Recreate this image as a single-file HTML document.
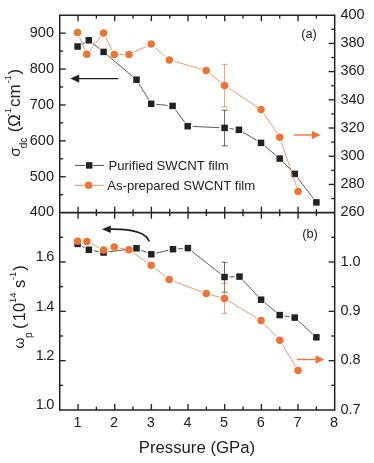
<!DOCTYPE html>
<html><head><meta charset="utf-8"><title>Pressure dependence</title>
<style>html,body{margin:0;padding:0;background:#fff;}svg{display:block;will-change:transform;}</style></head>
<body>
<svg width="374" height="463" viewBox="0 0 374 463" font-family="Liberation Sans, sans-serif" fill="#222222">
<rect width="374" height="463" fill="#ffffff"/>
<line x1="81.97" y1="44.08" x2="84.43" y2="42.72" stroke="#222222" stroke-width="0.75" />
<line x1="92.74" y1="43.38" x2="99.66" y2="48.82" stroke="#222222" stroke-width="0.75" />
<line x1="107.42" y1="55.13" x2="132.68" y2="76.47" stroke="#222222" stroke-width="0.75" />
<line x1="139.10" y1="83.97" x2="148.60" y2="99.53" stroke="#222222" stroke-width="0.75" />
<line x1="156.18" y1="104.29" x2="167.62" y2="105.41" stroke="#222222" stroke-width="0.75" />
<line x1="175.58" y1="109.91" x2="184.72" y2="122.19" stroke="#222222" stroke-width="0.75" />
<line x1="192.69" y1="126.43" x2="219.61" y2="127.67" stroke="#222222" stroke-width="0.75" />
<line x1="229.56" y1="128.56" x2="233.94" y2="129.14" stroke="#222222" stroke-width="0.75" />
<line x1="243.20" y1="132.35" x2="256.70" y2="140.35" stroke="#222222" stroke-width="0.75" />
<line x1="264.83" y1="146.11" x2="275.87" y2="155.39" stroke="#222222" stroke-width="0.75" />
<line x1="283.20" y1="162.17" x2="291.20" y2="170.33" stroke="#222222" stroke-width="0.75" />
<line x1="297.73" y1="177.88" x2="313.37" y2="198.42" stroke="#222222" stroke-width="0.75" />
<line x1="224.60" y1="110.20" x2="224.60" y2="145.80" stroke="#222222" stroke-width="0.7" />
<line x1="221.60" y1="110.20" x2="227.60" y2="110.20" stroke="#222222" stroke-width="0.7" />
<line x1="221.60" y1="145.80" x2="227.60" y2="145.80" stroke="#222222" stroke-width="0.7" />
<rect x="74.35" y="43.25" width="6.5" height="6.5" fill="#222222"/>
<rect x="85.55" y="37.05" width="6.5" height="6.5" fill="#222222"/>
<rect x="100.35" y="48.65" width="6.5" height="6.5" fill="#222222"/>
<rect x="133.25" y="76.45" width="6.5" height="6.5" fill="#222222"/>
<rect x="147.95" y="100.55" width="6.5" height="6.5" fill="#222222"/>
<rect x="169.35" y="102.65" width="6.5" height="6.5" fill="#222222"/>
<rect x="184.45" y="122.95" width="6.5" height="6.5" fill="#222222"/>
<rect x="221.35" y="124.65" width="6.5" height="6.5" fill="#222222"/>
<rect x="235.65" y="126.55" width="6.5" height="6.5" fill="#222222"/>
<rect x="257.75" y="139.65" width="6.5" height="6.5" fill="#222222"/>
<rect x="276.45" y="155.35" width="6.5" height="6.5" fill="#222222"/>
<rect x="291.45" y="170.65" width="6.5" height="6.5" fill="#222222"/>
<rect x="313.15" y="199.15" width="6.5" height="6.5" fill="#222222"/>
<line x1="79.54" y1="37.11" x2="84.86" y2="49.69" stroke="#EF7433" stroke-width="0.75" />
<line x1="89.89" y1="50.37" x2="100.51" y2="36.83" stroke="#EF7433" stroke-width="0.75" />
<line x1="105.81" y1="37.38" x2="112.09" y2="50.12" stroke="#EF7433" stroke-width="0.75" />
<line x1="119.30" y1="54.60" x2="124.00" y2="54.60" stroke="#EF7433" stroke-width="0.75" />
<line x1="133.52" y1="52.46" x2="146.68" y2="46.24" stroke="#EF7433" stroke-width="0.75" />
<line x1="154.98" y1="47.38" x2="165.62" y2="56.62" stroke="#EF7433" stroke-width="0.75" />
<line x1="174.20" y1="61.30" x2="201.40" y2="69.20" stroke="#EF7433" stroke-width="0.75" />
<line x1="210.10" y1="73.73" x2="220.70" y2="82.27" stroke="#EF7433" stroke-width="0.75" />
<line x1="228.77" y1="88.16" x2="256.83" y2="106.74" stroke="#EF7433" stroke-width="0.75" />
<line x1="263.80" y1="113.64" x2="276.90" y2="133.06" stroke="#EF7433" stroke-width="0.75" />
<line x1="281.30" y1="141.94" x2="296.50" y2="186.76" stroke="#EF7433" stroke-width="0.75" />
<line x1="224.60" y1="64.30" x2="224.60" y2="106.90" stroke="#EF7433" stroke-width="0.7" />
<line x1="221.60" y1="64.30" x2="227.60" y2="64.30" stroke="#EF7433" stroke-width="0.7" />
<line x1="221.60" y1="106.90" x2="227.60" y2="106.90" stroke="#EF7433" stroke-width="0.7" />
<circle cx="77.60" cy="32.50" r="3.75" fill="#EF7433"/>
<circle cx="86.80" cy="54.30" r="3.75" fill="#EF7433"/>
<circle cx="103.60" cy="32.90" r="3.75" fill="#EF7433"/>
<circle cx="114.30" cy="54.60" r="3.75" fill="#EF7433"/>
<circle cx="129.00" cy="54.60" r="3.75" fill="#EF7433"/>
<circle cx="151.20" cy="44.10" r="3.75" fill="#EF7433"/>
<circle cx="169.40" cy="59.90" r="3.75" fill="#EF7433"/>
<circle cx="206.20" cy="70.60" r="3.75" fill="#EF7433"/>
<circle cx="224.60" cy="85.40" r="3.75" fill="#EF7433"/>
<circle cx="261.00" cy="109.50" r="3.75" fill="#EF7433"/>
<circle cx="279.70" cy="137.20" r="3.75" fill="#EF7433"/>
<circle cx="298.10" cy="191.50" r="3.75" fill="#EF7433"/>
<line x1="82.03" y1="246.21" x2="84.47" y2="247.49" stroke="#222222" stroke-width="0.75" />
<line x1="93.82" y1="250.70" x2="98.68" y2="251.60" stroke="#222222" stroke-width="0.75" />
<line x1="108.56" y1="251.87" x2="131.54" y2="248.93" stroke="#222222" stroke-width="0.75" />
<line x1="141.13" y1="250.18" x2="146.67" y2="252.42" stroke="#222222" stroke-width="0.75" />
<line x1="156.17" y1="253.16" x2="168.13" y2="250.34" stroke="#222222" stroke-width="0.75" />
<line x1="177.99" y1="248.83" x2="182.91" y2="248.47" stroke="#222222" stroke-width="0.75" />
<line x1="191.82" y1="251.20" x2="220.58" y2="273.90" stroke="#222222" stroke-width="0.75" />
<line x1="229.50" y1="276.87" x2="234.50" y2="276.73" stroke="#222222" stroke-width="0.75" />
<line x1="242.91" y1="280.25" x2="257.69" y2="296.05" stroke="#222222" stroke-width="0.75" />
<line x1="264.95" y1="302.89" x2="275.85" y2="311.91" stroke="#222222" stroke-width="0.75" />
<line x1="284.63" y1="315.92" x2="289.77" y2="316.78" stroke="#222222" stroke-width="0.75" />
<line x1="298.40" y1="320.96" x2="312.70" y2="333.94" stroke="#222222" stroke-width="0.75" />
<line x1="224.50" y1="262.30" x2="224.50" y2="292.20" stroke="#222222" stroke-width="0.7" />
<line x1="221.50" y1="262.30" x2="227.50" y2="262.30" stroke="#222222" stroke-width="0.7" />
<line x1="221.50" y1="292.20" x2="227.50" y2="292.20" stroke="#222222" stroke-width="0.7" />
<rect x="74.35" y="240.65" width="6.5" height="6.5" fill="#222222"/>
<rect x="85.65" y="246.55" width="6.5" height="6.5" fill="#222222"/>
<rect x="100.35" y="249.25" width="6.5" height="6.5" fill="#222222"/>
<rect x="133.25" y="245.05" width="6.5" height="6.5" fill="#222222"/>
<rect x="148.05" y="251.05" width="6.5" height="6.5" fill="#222222"/>
<rect x="169.75" y="245.95" width="6.5" height="6.5" fill="#222222"/>
<rect x="184.65" y="244.85" width="6.5" height="6.5" fill="#222222"/>
<rect x="221.25" y="273.75" width="6.5" height="6.5" fill="#222222"/>
<rect x="236.25" y="273.35" width="6.5" height="6.5" fill="#222222"/>
<rect x="257.85" y="296.45" width="6.5" height="6.5" fill="#222222"/>
<rect x="276.45" y="311.85" width="6.5" height="6.5" fill="#222222"/>
<rect x="291.45" y="314.35" width="6.5" height="6.5" fill="#222222"/>
<rect x="313.15" y="334.05" width="6.5" height="6.5" fill="#222222"/>
<line x1="91.36" y1="243.77" x2="99.14" y2="247.73" stroke="#EF7433" stroke-width="0.75" />
<line x1="108.41" y1="248.65" x2="109.49" y2="248.35" stroke="#EF7433" stroke-width="0.75" />
<line x1="119.21" y1="247.94" x2="124.09" y2="248.86" stroke="#EF7433" stroke-width="0.75" />
<line x1="133.11" y1="252.65" x2="147.19" y2="262.45" stroke="#EF7433" stroke-width="0.75" />
<line x1="155.21" y1="268.42" x2="165.29" y2="276.48" stroke="#EF7433" stroke-width="0.75" />
<line x1="173.88" y1="281.37" x2="201.62" y2="291.83" stroke="#EF7433" stroke-width="0.75" />
<line x1="211.13" y1="294.90" x2="219.67" y2="297.20" stroke="#EF7433" stroke-width="0.75" />
<line x1="228.78" y1="301.08" x2="256.82" y2="318.02" stroke="#EF7433" stroke-width="0.75" />
<line x1="264.55" y1="324.22" x2="276.35" y2="336.58" stroke="#EF7433" stroke-width="0.75" />
<line x1="282.39" y1="344.48" x2="295.51" y2="366.12" stroke="#EF7433" stroke-width="0.75" />
<line x1="224.50" y1="283.40" x2="224.50" y2="313.40" stroke="#EF7433" stroke-width="0.7" />
<line x1="221.50" y1="283.40" x2="227.50" y2="283.40" stroke="#EF7433" stroke-width="0.7" />
<line x1="221.50" y1="313.40" x2="227.50" y2="313.40" stroke="#EF7433" stroke-width="0.7" />
<circle cx="77.60" cy="241.30" r="3.75" fill="#EF7433"/>
<circle cx="86.90" cy="241.50" r="3.75" fill="#EF7433"/>
<circle cx="103.60" cy="250.00" r="3.75" fill="#EF7433"/>
<circle cx="114.30" cy="247.00" r="3.75" fill="#EF7433"/>
<circle cx="129.00" cy="249.80" r="3.75" fill="#EF7433"/>
<circle cx="151.30" cy="265.30" r="3.75" fill="#EF7433"/>
<circle cx="169.20" cy="279.60" r="3.75" fill="#EF7433"/>
<circle cx="206.30" cy="293.60" r="3.75" fill="#EF7433"/>
<circle cx="224.50" cy="298.50" r="3.75" fill="#EF7433"/>
<circle cx="261.10" cy="320.60" r="3.75" fill="#EF7433"/>
<circle cx="279.80" cy="340.20" r="3.75" fill="#EF7433"/>
<circle cx="298.10" cy="370.40" r="3.75" fill="#EF7433"/>
<line x1="59.72" y1="14.45" x2="59.72" y2="410.75" stroke="#222222" stroke-width="1.5" />
<line x1="334.68" y1="14.45" x2="334.68" y2="410.75" stroke="#222222" stroke-width="1.5" />
<line x1="59.72" y1="15.20" x2="334.68" y2="15.20" stroke="#222222" stroke-width="1.5" />
<line x1="59.72" y1="212.65" x2="334.68" y2="212.65" stroke="#222222" stroke-width="1.7" />
<line x1="59.72" y1="410.00" x2="334.68" y2="410.00" stroke="#222222" stroke-width="1.5" />
<line x1="78.05" y1="15.20" x2="78.05" y2="21.20" stroke="#222222" stroke-width="1.35" />
<line x1="78.05" y1="206.65" x2="78.05" y2="218.65" stroke="#222222" stroke-width="1.35" />
<line x1="78.05" y1="404.00" x2="78.05" y2="410.00" stroke="#222222" stroke-width="1.35" />
<line x1="96.38" y1="15.20" x2="96.38" y2="18.60" stroke="#222222" stroke-width="1.35" />
<line x1="96.38" y1="209.15" x2="96.38" y2="216.15" stroke="#222222" stroke-width="1.35" />
<line x1="96.38" y1="406.60" x2="96.38" y2="410.00" stroke="#222222" stroke-width="1.35" />
<line x1="114.72" y1="15.20" x2="114.72" y2="21.20" stroke="#222222" stroke-width="1.35" />
<line x1="114.72" y1="206.65" x2="114.72" y2="218.65" stroke="#222222" stroke-width="1.35" />
<line x1="114.72" y1="404.00" x2="114.72" y2="410.00" stroke="#222222" stroke-width="1.35" />
<line x1="133.05" y1="15.20" x2="133.05" y2="18.60" stroke="#222222" stroke-width="1.35" />
<line x1="133.05" y1="209.15" x2="133.05" y2="216.15" stroke="#222222" stroke-width="1.35" />
<line x1="133.05" y1="406.60" x2="133.05" y2="410.00" stroke="#222222" stroke-width="1.35" />
<line x1="151.38" y1="15.20" x2="151.38" y2="21.20" stroke="#222222" stroke-width="1.35" />
<line x1="151.38" y1="206.65" x2="151.38" y2="218.65" stroke="#222222" stroke-width="1.35" />
<line x1="151.38" y1="404.00" x2="151.38" y2="410.00" stroke="#222222" stroke-width="1.35" />
<line x1="169.72" y1="15.20" x2="169.72" y2="18.60" stroke="#222222" stroke-width="1.35" />
<line x1="169.72" y1="209.15" x2="169.72" y2="216.15" stroke="#222222" stroke-width="1.35" />
<line x1="169.72" y1="406.60" x2="169.72" y2="410.00" stroke="#222222" stroke-width="1.35" />
<line x1="188.05" y1="15.20" x2="188.05" y2="21.20" stroke="#222222" stroke-width="1.35" />
<line x1="188.05" y1="206.65" x2="188.05" y2="218.65" stroke="#222222" stroke-width="1.35" />
<line x1="188.05" y1="404.00" x2="188.05" y2="410.00" stroke="#222222" stroke-width="1.35" />
<line x1="206.38" y1="15.20" x2="206.38" y2="18.60" stroke="#222222" stroke-width="1.35" />
<line x1="206.38" y1="209.15" x2="206.38" y2="216.15" stroke="#222222" stroke-width="1.35" />
<line x1="206.38" y1="406.60" x2="206.38" y2="410.00" stroke="#222222" stroke-width="1.35" />
<line x1="224.72" y1="15.20" x2="224.72" y2="21.20" stroke="#222222" stroke-width="1.35" />
<line x1="224.72" y1="206.65" x2="224.72" y2="218.65" stroke="#222222" stroke-width="1.35" />
<line x1="224.72" y1="404.00" x2="224.72" y2="410.00" stroke="#222222" stroke-width="1.35" />
<line x1="243.05" y1="15.20" x2="243.05" y2="18.60" stroke="#222222" stroke-width="1.35" />
<line x1="243.05" y1="209.15" x2="243.05" y2="216.15" stroke="#222222" stroke-width="1.35" />
<line x1="243.05" y1="406.60" x2="243.05" y2="410.00" stroke="#222222" stroke-width="1.35" />
<line x1="261.38" y1="15.20" x2="261.38" y2="21.20" stroke="#222222" stroke-width="1.35" />
<line x1="261.38" y1="206.65" x2="261.38" y2="218.65" stroke="#222222" stroke-width="1.35" />
<line x1="261.38" y1="404.00" x2="261.38" y2="410.00" stroke="#222222" stroke-width="1.35" />
<line x1="279.72" y1="15.20" x2="279.72" y2="18.60" stroke="#222222" stroke-width="1.35" />
<line x1="279.72" y1="209.15" x2="279.72" y2="216.15" stroke="#222222" stroke-width="1.35" />
<line x1="279.72" y1="406.60" x2="279.72" y2="410.00" stroke="#222222" stroke-width="1.35" />
<line x1="298.05" y1="15.20" x2="298.05" y2="21.20" stroke="#222222" stroke-width="1.35" />
<line x1="298.05" y1="206.65" x2="298.05" y2="218.65" stroke="#222222" stroke-width="1.35" />
<line x1="298.05" y1="404.00" x2="298.05" y2="410.00" stroke="#222222" stroke-width="1.35" />
<line x1="316.39" y1="15.20" x2="316.39" y2="18.60" stroke="#222222" stroke-width="1.35" />
<line x1="316.39" y1="209.15" x2="316.39" y2="216.15" stroke="#222222" stroke-width="1.35" />
<line x1="316.39" y1="406.60" x2="316.39" y2="410.00" stroke="#222222" stroke-width="1.35" />
<line x1="59.72" y1="194.70" x2="63.12" y2="194.70" stroke="#222222" stroke-width="1.35" />
<line x1="59.72" y1="176.75" x2="65.72" y2="176.75" stroke="#222222" stroke-width="1.35" />
<line x1="59.72" y1="158.80" x2="63.12" y2="158.80" stroke="#222222" stroke-width="1.35" />
<line x1="59.72" y1="140.85" x2="65.72" y2="140.85" stroke="#222222" stroke-width="1.35" />
<line x1="59.72" y1="122.90" x2="63.12" y2="122.90" stroke="#222222" stroke-width="1.35" />
<line x1="59.72" y1="104.95" x2="65.72" y2="104.95" stroke="#222222" stroke-width="1.35" />
<line x1="59.72" y1="87.00" x2="63.12" y2="87.00" stroke="#222222" stroke-width="1.35" />
<line x1="59.72" y1="69.05" x2="65.72" y2="69.05" stroke="#222222" stroke-width="1.35" />
<line x1="59.72" y1="51.10" x2="63.12" y2="51.10" stroke="#222222" stroke-width="1.35" />
<line x1="59.72" y1="33.15" x2="65.72" y2="33.15" stroke="#222222" stroke-width="1.35" />
<line x1="331.28" y1="198.55" x2="334.68" y2="198.55" stroke="#222222" stroke-width="1.35" />
<line x1="328.68" y1="184.44" x2="334.68" y2="184.44" stroke="#222222" stroke-width="1.35" />
<line x1="331.28" y1="170.34" x2="334.68" y2="170.34" stroke="#222222" stroke-width="1.35" />
<line x1="328.68" y1="156.24" x2="334.68" y2="156.24" stroke="#222222" stroke-width="1.35" />
<line x1="331.28" y1="142.13" x2="334.68" y2="142.13" stroke="#222222" stroke-width="1.35" />
<line x1="328.68" y1="128.03" x2="334.68" y2="128.03" stroke="#222222" stroke-width="1.35" />
<line x1="331.28" y1="113.92" x2="334.68" y2="113.92" stroke="#222222" stroke-width="1.35" />
<line x1="328.68" y1="99.82" x2="334.68" y2="99.82" stroke="#222222" stroke-width="1.35" />
<line x1="331.28" y1="85.72" x2="334.68" y2="85.72" stroke="#222222" stroke-width="1.35" />
<line x1="328.68" y1="71.61" x2="334.68" y2="71.61" stroke="#222222" stroke-width="1.35" />
<line x1="331.28" y1="57.51" x2="334.68" y2="57.51" stroke="#222222" stroke-width="1.35" />
<line x1="328.68" y1="43.41" x2="334.68" y2="43.41" stroke="#222222" stroke-width="1.35" />
<line x1="331.28" y1="29.30" x2="334.68" y2="29.30" stroke="#222222" stroke-width="1.35" />
<line x1="59.72" y1="385.33" x2="63.12" y2="385.33" stroke="#222222" stroke-width="1.35" />
<line x1="59.72" y1="360.66" x2="65.72" y2="360.66" stroke="#222222" stroke-width="1.35" />
<line x1="59.72" y1="335.99" x2="63.12" y2="335.99" stroke="#222222" stroke-width="1.35" />
<line x1="59.72" y1="311.33" x2="65.72" y2="311.33" stroke="#222222" stroke-width="1.35" />
<line x1="59.72" y1="286.66" x2="63.12" y2="286.66" stroke="#222222" stroke-width="1.35" />
<line x1="59.72" y1="261.99" x2="65.72" y2="261.99" stroke="#222222" stroke-width="1.35" />
<line x1="59.72" y1="237.32" x2="63.12" y2="237.32" stroke="#222222" stroke-width="1.35" />
<line x1="331.28" y1="385.33" x2="334.68" y2="385.33" stroke="#222222" stroke-width="1.35" />
<line x1="328.68" y1="360.66" x2="334.68" y2="360.66" stroke="#222222" stroke-width="1.35" />
<line x1="331.28" y1="335.99" x2="334.68" y2="335.99" stroke="#222222" stroke-width="1.35" />
<line x1="328.68" y1="311.33" x2="334.68" y2="311.33" stroke="#222222" stroke-width="1.35" />
<line x1="331.28" y1="286.66" x2="334.68" y2="286.66" stroke="#222222" stroke-width="1.35" />
<line x1="328.68" y1="261.99" x2="334.68" y2="261.99" stroke="#222222" stroke-width="1.35" />
<line x1="331.28" y1="237.32" x2="334.68" y2="237.32" stroke="#222222" stroke-width="1.35" />
<text x="54.00" y="216.45" text-anchor="end" font-size="14.5" >400</text>
<text x="54.00" y="180.55" text-anchor="end" font-size="14.5" >500</text>
<text x="54.00" y="144.65" text-anchor="end" font-size="14.5" >600</text>
<text x="54.00" y="108.75" text-anchor="end" font-size="14.5" >700</text>
<text x="54.00" y="72.85" text-anchor="end" font-size="14.5" >800</text>
<text x="54.00" y="36.95" text-anchor="end" font-size="14.5" >900</text>
<text x="340.40" y="216.45" text-anchor="start" font-size="14.5" >260</text>
<text x="340.40" y="188.24" text-anchor="start" font-size="14.5" >280</text>
<text x="340.40" y="160.04" text-anchor="start" font-size="14.5" >300</text>
<text x="340.40" y="131.83" text-anchor="start" font-size="14.5" >320</text>
<text x="340.40" y="103.62" text-anchor="start" font-size="14.5" >340</text>
<text x="340.40" y="75.41" text-anchor="start" font-size="14.5" >360</text>
<text x="340.40" y="47.21" text-anchor="start" font-size="14.5" >380</text>
<text x="340.40" y="19.00" text-anchor="start" font-size="14.5" >400</text>
<text x="54.40" y="409.20" text-anchor="end" font-size="14.5" >1<tspan dx="-0.8">.</tspan><tspan dx="-0.7">0</tspan></text>
<text x="54.40" y="359.86" text-anchor="end" font-size="14.5" >1<tspan dx="-0.8">.</tspan><tspan dx="-0.7">2</tspan></text>
<text x="54.40" y="310.53" text-anchor="end" font-size="14.5" >1<tspan dx="-0.8">.</tspan><tspan dx="-0.7">4</tspan></text>
<text x="54.40" y="261.19" text-anchor="end" font-size="14.5" >1<tspan dx="-0.8">.</tspan><tspan dx="-0.7">6</tspan></text>
<text x="340.40" y="413.80" text-anchor="start" font-size="14.5" >0.7</text>
<text x="340.40" y="364.46" text-anchor="start" font-size="14.5" >0.8</text>
<text x="340.40" y="315.12" text-anchor="start" font-size="14.5" >0.9</text>
<text x="340.40" y="265.79" text-anchor="start" font-size="14.5" >1.0</text>
<text x="77.45" y="427.20" text-anchor="middle" font-size="14.5" >1</text>
<text x="114.12" y="427.20" text-anchor="middle" font-size="14.5" >2</text>
<text x="150.78" y="427.20" text-anchor="middle" font-size="14.5" >3</text>
<text x="187.45" y="427.20" text-anchor="middle" font-size="14.5" >4</text>
<text x="224.12" y="427.20" text-anchor="middle" font-size="14.5" >5</text>
<text x="260.78" y="427.20" text-anchor="middle" font-size="14.5" >6</text>
<text x="297.45" y="427.20" text-anchor="middle" font-size="14.5" >7</text>
<text x="334.12" y="427.20" text-anchor="middle" font-size="14.5" >8</text>
<text x="196.90" y="453.00" text-anchor="middle" font-size="16.75" >Pressure (GPa)</text>
<text x="309.00" y="38.40" text-anchor="middle" font-size="12.8" >(a)</text>
<text x="310.00" y="237.60" text-anchor="middle" font-size="12.8" >(b)</text>
<line x1="74.90" y1="165.40" x2="85.30" y2="165.40" stroke="#222222" stroke-width="0.8" />
<line x1="93.20" y1="165.40" x2="104.20" y2="165.40" stroke="#222222" stroke-width="0.8" />
<rect x="85.95" y="162.15" width="6.5" height="6.5" fill="#222222"/>
<line x1="74.50" y1="185.30" x2="84.40" y2="185.30" stroke="#EF7433" stroke-width="0.8" />
<line x1="93.00" y1="185.30" x2="103.50" y2="185.30" stroke="#EF7433" stroke-width="0.8" />
<circle cx="88.6" cy="185.3" r="3.75" fill="#EF7433"/>
<text x="108.40" y="170.00" text-anchor="start" font-size="13.15" >Purified SWCNT film</text>
<text x="107.20" y="189.90" text-anchor="start" font-size="13.15" >As-prepared SWCNT film</text>
<line x1="118.30" y1="78.60" x2="77.44" y2="78.60" stroke="#222222" stroke-width="1.35" />
<polygon points="70.40,78.60 79.20,74.40 79.20,82.80" fill="#222222"/>
<line x1="293.60" y1="135.00" x2="313.56" y2="135.00" stroke="#EF7433" stroke-width="1.35" />
<polygon points="320.60,135.00 311.80,130.80 311.80,139.20" fill="#EF7433"/>
<line x1="296.80" y1="359.50" x2="317.36" y2="359.50" stroke="#EF7433" stroke-width="1.35" />
<polygon points="324.40,359.50 315.60,355.30 315.60,363.70" fill="#EF7433"/>
<path d="M149.3,241.5 C146,233 132,228.6 109,229.2" fill="none" stroke="#222222" stroke-width="1.7"/>
<polygon points="101.9,229.2 110.8,225.6 110.8,232.9" fill="#222222"/>
<g transform="translate(19.6,156.8) rotate(-90)"><text x="0" y="0" font-size="16.5"><tspan font-size="15.5">σ</tspan><tspan dx="-1.0" dy="7" font-size="10">dc</tspan><tspan dx="0.8" dy="-7"> (Ω</tspan><tspan dx="-2.0" dy="-8.5" font-size="9.5">-1</tspan><tspan dx="1.1" dy="8.5" font-size="17">cm</tspan><tspan dx="0.6" dy="-8.5" font-size="9.5">-1</tspan><tspan dx="0.7" dy="8.5">)</tspan></text></g>
<g transform="translate(24.6,348.4) rotate(-90)"><text x="0" y="0" font-size="16.5"><tspan dy="-0.7" font-size="14">ω</tspan><tspan dx="-0.5" dy="7.7" font-size="10">p</tspan><tspan dx="-1.2" dy="-7"> (</tspan><tspan dx="2.25">10</tspan><tspan dy="-8.8" font-size="9.3">14</tspan><tspan dx="0.0" dy="8.8"> s</tspan><tspan dx="-0.5" dy="-8.8" font-size="9.3">-1</tspan><tspan dx="1.1" dy="8.8">)</tspan></text></g>
</svg>
</body></html>
